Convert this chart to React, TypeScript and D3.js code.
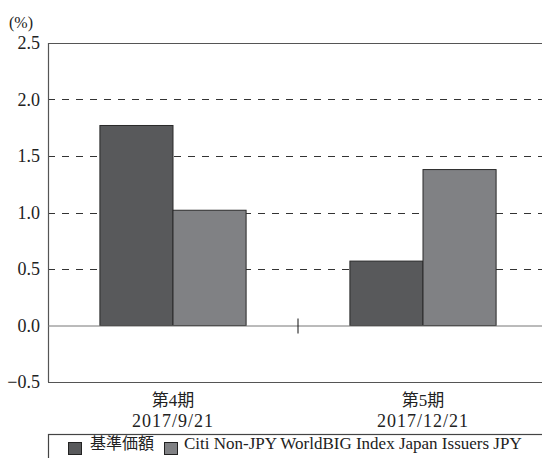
import * as d3 from "d3";

const categories = ["第4期", "第5期"];
const dates = ["2017/9/21", "2017/12/21"];
const seriesNames = ["基準価額", "Citi Non-JPY WorldBIG Index Japan Issuers JPY"];
const fundValues = [1.77, 0.57];
const indexValues = [1.02, 1.38];
const yTicks = [-0.5, 0.0, 0.5, 1.0, 1.5, 2.0, 2.5];
const colors = ["#58595b", "#808184"];

const WIDTH = 542;
const HEIGHT = 458;
const MARGIN = { top: 43, right: -6, bottom: 76, left: 48 };
const FONT = "'Liberation Serif', 'Noto Sans CJK JP', serif";

export default function App() {
  const x0 = MARGIN.left;
  const x1 = WIDTH - MARGIN.right;
  const y0 = MARGIN.top;
  const y1 = HEIGHT - MARGIN.bottom;

  const xScale = d3.scaleBand().domain(categories).range([x0, x1]);
  const inner = d3
    .scaleBand()
    .domain(seriesNames)
    .range([0, xScale.bandwidth()])
    .paddingInner(0)
    .paddingOuter(0.71);
  const yScale = d3.scaleLinear().domain([-0.5, 2.5]).range([y1, y0]);

  const rows = categories.map((c, i) => ({ cat: c, vals: [fundValues[i], indexValues[i]] }));

  // small tick between the two categories
  const midX = xScale(categories[1]) ?? 0;

  return (
    <svg
      width={WIDTH}
      height={HEIGHT}
      style={{ position: "absolute", left: 0, top: 0, background: "#fff" }}
      fontFamily={FONT}
    >
      {/* grid */}
      {yTicks
        .filter((t) => t > 0 && t < 2.5)
        .map((t) => (
          <line
            key={t}
            x1={x0}
            x2={WIDTH}
            y1={Math.round(yScale(t)) + 0.5}
            y2={Math.round(yScale(t)) + 0.5}
            stroke="#333"
            strokeDasharray="7,7"
          />
        ))}
      {/* frame */}
      <line x1={x0} x2={WIDTH} y1={y0 + 0.5} y2={y0 + 0.5} stroke="#555" strokeWidth={1.2} />
      <line x1={x0} x2={WIDTH} y1={y1 + 0.5} y2={y1 + 0.5} stroke="#555" strokeWidth={1.2} />
      <line x1={x0 + 0.5} x2={x0 + 0.5} y1={y0} y2={y1} stroke="#555" strokeWidth={1.2} />

      {/* bars */}
      {rows.map((r) =>
        r.vals.map((v, j) => {
          const bx = (xScale(r.cat) ?? 0) + (inner(seriesNames[j]) ?? 0);
          const top = yScale(Math.max(0, v));
          return (
            <rect
              key={r.cat + j}
              x={bx}
              y={top}
              width={inner.bandwidth()}
              height={yScale(0) - top}
              fill={colors[j]}
              stroke="#2a2a2a"
              strokeWidth={1}
            />
          );
        })
      )}

      {/* zero line */}
      <line x1={x0} x2={WIDTH} y1={yScale(0) + 0.5} y2={yScale(0) + 0.5} stroke="#777" strokeWidth={1} />
      <line x1={midX} x2={midX} y1={yScale(0) - 7} y2={yScale(0) + 8} stroke="#111" strokeWidth={1} />

      {/* y labels */}
      {yTicks.map((t) => (
        <text
          key={t}
          x={x0 - 8}
          y={yScale(t)}
          textAnchor="end"
          dominantBaseline="central"
          fontSize={18}
          fill="#222"
        >
          {d3.format(".1f")(t)}
        </text>
      ))}
      <text x={9} y={22} fontSize={16} fill="#222" dominantBaseline="central">
        (%)
      </text>

      {/* x labels */}
      {categories.map((c, i) => {
        const cx = (xScale(c) ?? 0) + xScale.bandwidth() / 2;
        return (
          <g key={c} fill="#222" textAnchor="middle">
            <text x={cx} y={406} fontSize={17}>
              {c}
            </text>
            <text x={cx} y={427} fontSize={18} letterSpacing={1}>
              {dates[i]}
            </text>
          </g>
        );
      })}

      {/* legend */}
      <rect x={48.5} y={434.5} width={560} height={40} fill="none" stroke="#444" strokeWidth={1.2} />
      {seriesNames.map((s, i) => {
        const lx = i === 0 ? 68 : 164;
        return (
          <g key={s}>
            <rect x={lx + 0.5} y={442.5} width={13} height={12} fill={colors[i]} stroke="#222" />
            <text x={lx + (i === 0 ? 22 : 20)} y={449} fontSize={i === 0 ? 16 : 17} fill="#222" dominantBaseline="auto">
              {s}
            </text>
          </g>
        );
      })}
    </svg>
  );
}
